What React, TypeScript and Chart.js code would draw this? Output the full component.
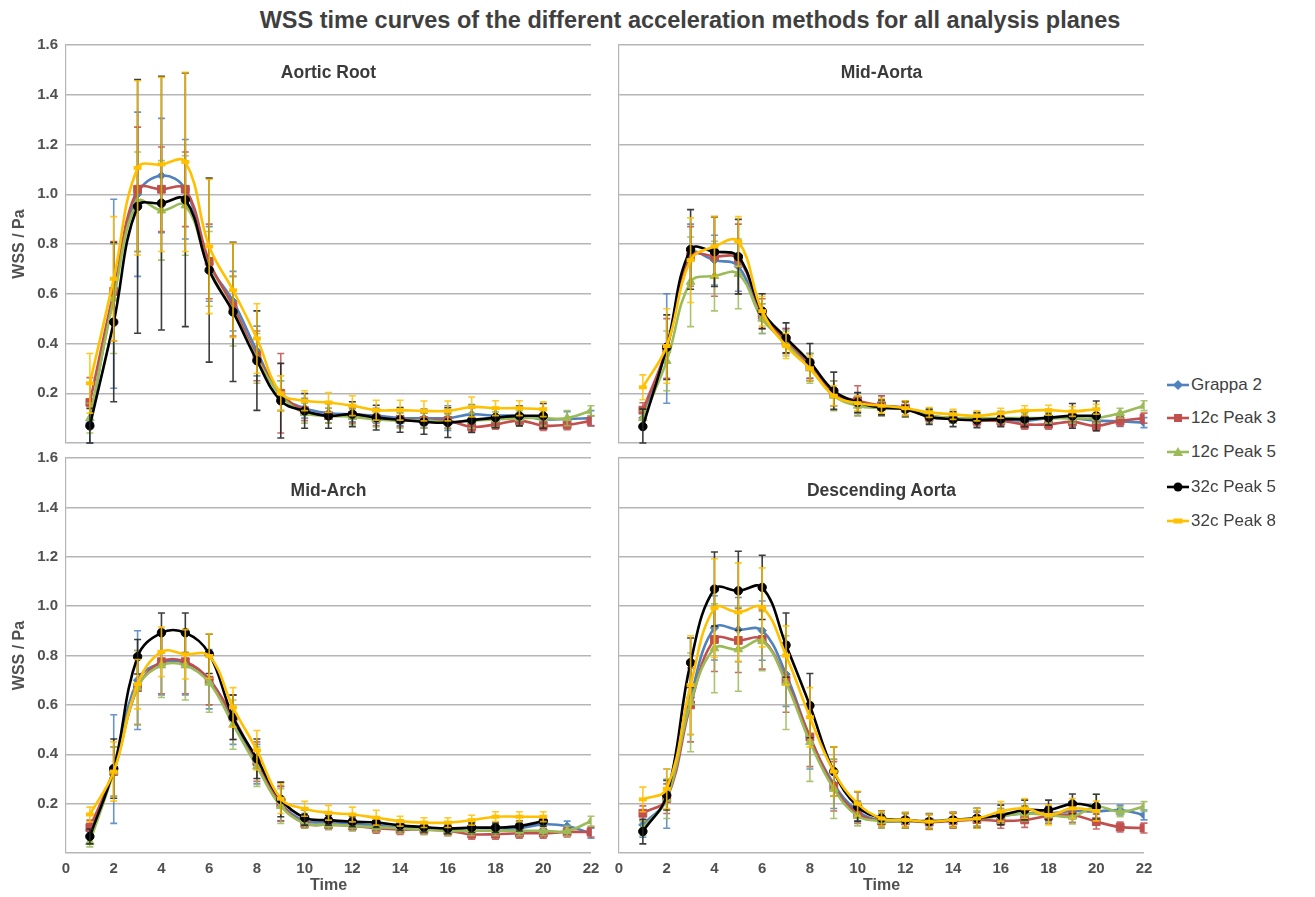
import React, { useEffect, useRef } from 'react';
import { Chart, registerables } from 'chart.js';

Chart.register(...registerables);

// ---------- data ----------
const timePoints = [1, 2, 3, 4, 5, 6, 7, 8, 9, 10, 11, 12, 13, 14, 15, 16, 17, 18, 19, 20, 21, 22];
const seriesNames = ['Grappa 2', '12c Peak 3', '12c Peak 5', '32c Peak 5', '32c Peak 8'];
const seriesColors = ['#4F81BD', '#C0504D', '#9BBB59', '#000000', '#FFC000'];
const errorColors = ['rgba(79,129,189,0.85)', 'rgba(192,80,77,0.85)', 'rgba(155,187,89,0.85)', 'rgba(40,40,40,0.9)', 'rgba(255,192,0,0.85)'];
const pointStyles = ['rectRot', 'rect', 'triangle', 'circle', 'line'];
const yTickValues = [0, 0.2, 0.4, 0.6, 0.8, 1.0, 1.2, 1.4, 1.6];
const xTickValues = [0, 2, 4, 6, 8, 10, 12, 14, 16, 18, 20, 22];
const mainTitle = 'WSS time curves of the different acceleration methods for all analysis planes';
const panelTitles = ['Aortic Root', 'Mid-Aorta', 'Mid-Arch', 'Descending Aorta'];

// Aortic Root
const rootGrappa2 = [0.08, 0.6, 1.0, 1.075, 1.02, 0.72, 0.57, 0.37, 0.19, 0.14, 0.12, 0.115, 0.11, 0.1, 0.1, 0.1, 0.115, 0.11, 0.11, 0.096, 0.096, 0.1];
const rootPeak3 = [0.163, 0.61, 1.02, 1.02, 1.02, 0.73, 0.55, 0.35, 0.2, 0.13, 0.11, 0.11, 0.1, 0.095, 0.09, 0.09, 0.065, 0.075, 0.09, 0.07, 0.073, 0.089];
const rootPeak5a = [0.1, 0.58, 0.97, 0.935, 0.955, 0.7, 0.53, 0.34, 0.19, 0.12, 0.11, 0.105, 0.095, 0.09, 0.09, 0.085, 0.09, 0.095, 0.1, 0.1, 0.1, 0.13];
const rootPeak5b = [0.069, 0.486, 0.951, 0.964, 0.978, 0.695, 0.527, 0.331, 0.17, 0.129, 0.109, 0.116, 0.102, 0.093, 0.085, 0.082, 0.092, 0.102, 0.109, 0.109];
const rootPeak8 = [0.24, 0.66, 1.106, 1.12, 1.13, 0.79, 0.614, 0.42, 0.2, 0.17, 0.163, 0.15, 0.132, 0.132, 0.129, 0.129, 0.145, 0.14, 0.14, 0.136];
const rootGrappa2Err = [0.08, 0.38, 0.33, 0.23, 0.2, 0.15, 0.12, 0.1, 0.06, 0.04, 0.04, 0.03, 0.03, 0.03, 0.03, 0.05, 0.04, 0.03, 0.03, 0.04, 0.03, 0.03];
const rootPeak3Err = [0.1, 0.2, 0.25, 0.17, 0.15, 0.15, 0.12, 0.1, 0.16, 0.04, 0.03, 0.03, 0.03, 0.03, 0.03, 0.03, 0.02, 0.02, 0.02, 0.02, 0.02, 0.02];
const rootPeak5aErr = [0.06, 0.22, 0.2, 0.2, 0.2, 0.15, 0.14, 0.1, 0.06, 0.04, 0.03, 0.03, 0.03, 0.03, 0.03, 0.03, 0.03, 0.03, 0.03, 0.03, 0.03, 0.02];
const rootPeak5bErr = [0.07, 0.32, 0.51, 0.51, 0.51, 0.37, 0.28, 0.2, 0.15, 0.07, 0.05, 0.05, 0.05, 0.05, 0.05, 0.06, 0.05, 0.04, 0.04, 0.05];
const rootPeak8Err = [0.12, 0.25, 0.35, 0.35, 0.36, 0.27, 0.19, 0.14, 0.07, 0.04, 0.04, 0.04, 0.04, 0.04, 0.04, 0.04, 0.04, 0.03, 0.03, 0.03];

// Mid-Aorta
const midAortaGrappa2 = [0.1, 0.38, 0.76, 0.735, 0.71, 0.5, 0.41, 0.31, 0.2, 0.16, 0.15, 0.14, 0.11, 0.1, 0.095, 0.095, 0.09, 0.1, 0.1, 0.09, 0.087, 0.082];
const midAortaPeak3 = [0.132, 0.38, 0.75, 0.75, 0.74, 0.52, 0.41, 0.31, 0.2, 0.17, 0.15, 0.14, 0.105, 0.1, 0.09, 0.089, 0.075, 0.075, 0.085, 0.069, 0.089, 0.1];
const midAortaPeak5a = [0.1, 0.33, 0.648, 0.671, 0.68, 0.5, 0.4, 0.3, 0.19, 0.15, 0.14, 0.135, 0.11, 0.1, 0.1, 0.1, 0.1, 0.1, 0.1, 0.1, 0.12, 0.15];
const midAortaPeak5b = [0.066, 0.385, 0.778, 0.769, 0.749, 0.53, 0.423, 0.325, 0.21, 0.163, 0.143, 0.136, 0.105, 0.096, 0.092, 0.096, 0.096, 0.102, 0.109, 0.109];
const midAortaPeak8 = [0.224, 0.39, 0.735, 0.79, 0.81, 0.53, 0.39, 0.3, 0.19, 0.16, 0.15, 0.14, 0.123, 0.115, 0.109, 0.12, 0.13, 0.132, 0.127, 0.136];
const midAortaGrappa2Err = [0.03, 0.22, 0.12, 0.1, 0.1, 0.06, 0.05, 0.05, 0.05, 0.04, 0.04, 0.03, 0.02, 0.02, 0.02, 0.02, 0.02, 0.02, 0.02, 0.02, 0.02, 0.02];
const midAortaPeak3Err = [0.03, 0.12, 0.12, 0.16, 0.14, 0.06, 0.05, 0.05, 0.05, 0.06, 0.04, 0.03, 0.02, 0.02, 0.02, 0.02, 0.02, 0.02, 0.02, 0.02, 0.02, 0.02];
const midAortaPeak5aErr = [0.03, 0.12, 0.18, 0.14, 0.14, 0.06, 0.05, 0.06, 0.06, 0.04, 0.03, 0.03, 0.03, 0.02, 0.02, 0.02, 0.02, 0.02, 0.02, 0.02, 0.02, 0.02];
const midAortaPeak5bErr = [0.07, 0.13, 0.16, 0.14, 0.15, 0.07, 0.06, 0.075, 0.075, 0.04, 0.03, 0.03, 0.03, 0.03, 0.03, 0.03, 0.03, 0.03, 0.05, 0.06];
const midAortaPeak8Err = [0.05, 0.15, 0.17, 0.12, 0.1, 0.06, 0.05, 0.05, 0.04, 0.03, 0.03, 0.03, 0.02, 0.02, 0.02, 0.02, 0.02, 0.02, 0.02, 0.02];

// Mid-Arch
const midArchGrappa2 = [0.09, 0.34, 0.7, 0.77, 0.77, 0.704, 0.54, 0.36, 0.2, 0.13, 0.125, 0.12, 0.11, 0.105, 0.1, 0.095, 0.1, 0.1, 0.1, 0.116, 0.109, 0.08];
const midArchPeak3 = [0.103, 0.33, 0.67, 0.775, 0.775, 0.7, 0.55, 0.37, 0.2, 0.12, 0.115, 0.11, 0.1, 0.095, 0.095, 0.09, 0.076, 0.076, 0.08, 0.08, 0.085, 0.085];
const midArchPeak5a = [0.045, 0.33, 0.67, 0.76, 0.76, 0.69, 0.52, 0.35, 0.19, 0.12, 0.115, 0.11, 0.105, 0.1, 0.095, 0.09, 0.09, 0.09, 0.09, 0.09, 0.089, 0.129];
const midArchPeak5b = [0.067, 0.342, 0.795, 0.892, 0.892, 0.807, 0.55, 0.382, 0.217, 0.143, 0.133, 0.127, 0.123, 0.112, 0.105, 0.099, 0.103, 0.103, 0.109, 0.129];
const midArchPeak8 = [0.156, 0.33, 0.684, 0.815, 0.805, 0.798, 0.59, 0.416, 0.22, 0.179, 0.163, 0.156, 0.143, 0.129, 0.123, 0.123, 0.133, 0.147, 0.147, 0.147];
const midArchGrappa2Err = [0.03, 0.22, 0.2, 0.13, 0.13, 0.12, 0.1, 0.08, 0.07, 0.03, 0.02, 0.02, 0.02, 0.02, 0.02, 0.02, 0.02, 0.02, 0.02, 0.02, 0.02, 0.02];
const midArchPeak3Err = [0.03, 0.1, 0.15, 0.13, 0.13, 0.1, 0.09, 0.08, 0.07, 0.02, 0.02, 0.02, 0.02, 0.02, 0.02, 0.02, 0.02, 0.02, 0.02, 0.02, 0.02, 0.02];
const midArchPeak5aErr = [0.02, 0.1, 0.15, 0.13, 0.14, 0.12, 0.1, 0.08, 0.07, 0.02, 0.02, 0.02, 0.02, 0.02, 0.02, 0.02, 0.02, 0.02, 0.02, 0.02, 0.02, 0.02];
const midArchPeak5bErr = [0.03, 0.12, 0.07, 0.08, 0.08, 0.08, 0.09, 0.08, 0.07, 0.03, 0.02, 0.02, 0.02, 0.02, 0.02, 0.02, 0.02, 0.02, 0.02, 0.02];
const midArchPeak8Err = [0.03, 0.12, 0.1, 0.1, 0.1, 0.09, 0.08, 0.08, 0.06, 0.03, 0.03, 0.03, 0.03, 0.02, 0.02, 0.02, 0.02, 0.02, 0.02, 0.02];

// Descending Aorta
const descGrappa2 = [0.114, 0.22, 0.63, 0.912, 0.905, 0.901, 0.724, 0.47, 0.28, 0.17, 0.13, 0.13, 0.13, 0.135, 0.14, 0.15, 0.16, 0.16, 0.17, 0.168, 0.174, 0.154];
const descPeak3 = [0.161, 0.22, 0.6, 0.865, 0.861, 0.865, 0.7, 0.47, 0.27, 0.16, 0.13, 0.13, 0.125, 0.13, 0.135, 0.13, 0.134, 0.15, 0.154, 0.127, 0.105, 0.101];
const descPeak5a = [0.1, 0.22, 0.61, 0.829, 0.825, 0.858, 0.69, 0.45, 0.26, 0.15, 0.13, 0.13, 0.13, 0.135, 0.14, 0.15, 0.16, 0.154, 0.148, 0.188, 0.167, 0.188];
const descPeak5b = [0.087, 0.234, 0.771, 1.069, 1.062, 1.076, 0.842, 0.597, 0.33, 0.188, 0.141, 0.134, 0.127, 0.134, 0.141, 0.154, 0.174, 0.174, 0.199, 0.188];
const descPeak8 = [0.217, 0.26, 0.68, 0.992, 0.975, 0.995, 0.8, 0.55, 0.33, 0.2, 0.14, 0.134, 0.127, 0.134, 0.14, 0.168, 0.181, 0.154, 0.181, 0.17];
const descGrappa2Err = [0.05, 0.12, 0.15, 0.13, 0.13, 0.12, 0.13, 0.13, 0.1, 0.04, 0.03, 0.03, 0.03, 0.03, 0.03, 0.03, 0.03, 0.03, 0.03, 0.03, 0.02, 0.02];
const descPeak3Err = [0.03, 0.06, 0.15, 0.13, 0.13, 0.12, 0.13, 0.12, 0.1, 0.04, 0.03, 0.03, 0.03, 0.03, 0.03, 0.03, 0.03, 0.03, 0.03, 0.03, 0.02, 0.02];
const descPeak5aErr = [0.03, 0.08, 0.2, 0.18, 0.17, 0.12, 0.19, 0.16, 0.12, 0.04, 0.03, 0.03, 0.03, 0.03, 0.03, 0.03, 0.03, 0.03, 0.03, 0.05, 0.02, 0.02];
const descPeak5bErr = [0.05, 0.06, 0.1, 0.15, 0.16, 0.13, 0.13, 0.13, 0.1, 0.06, 0.03, 0.03, 0.03, 0.03, 0.04, 0.04, 0.04, 0.04, 0.04, 0.05];
const descPeak8Err = [0.05, 0.08, 0.2, 0.2, 0.2, 0.16, 0.12, 0.12, 0.1, 0.05, 0.03, 0.03, 0.03, 0.03, 0.04, 0.04, 0.04, 0.04, 0.04, 0.04];

const panelValues = [
  [rootGrappa2, rootPeak3, rootPeak5a, rootPeak5b, rootPeak8],
  [midAortaGrappa2, midAortaPeak3, midAortaPeak5a, midAortaPeak5b, midAortaPeak8],
  [midArchGrappa2, midArchPeak3, midArchPeak5a, midArchPeak5b, midArchPeak8],
  [descGrappa2, descPeak3, descPeak5a, descPeak5b, descPeak8],
];
const panelErrors = [
  [rootGrappa2Err, rootPeak3Err, rootPeak5aErr, rootPeak5bErr, rootPeak8Err],
  [midAortaGrappa2Err, midAortaPeak3Err, midAortaPeak5aErr, midAortaPeak5bErr, midAortaPeak8Err],
  [midArchGrappa2Err, midArchPeak3Err, midArchPeak5aErr, midArchPeak5bErr, midArchPeak8Err],
  [descGrappa2Err, descPeak3Err, descPeak5aErr, descPeak5bErr, descPeak8Err],
];

// ---------- layout ----------
const FONT = '"Liberation Sans", Arial, sans-serif';
const TEXT_COLOR = '#505050';
const GRID_COLOR = '#b5b5b5';
const PAD = 20;

// plot areas: left panels x 66..591, right panels x 619..1144; top y 45..443, bottom y 458..853
const panelLayout = [
  { left: 0, top: 45 - PAD, width: 591 + PAD, height: 443 - 45 + 2 * PAD, showX: false, showY: true, titleX: 328.5, titleY: 72 },
  { left: 619 - PAD, top: 45 - PAD, width: 1144 - 619 + 2 * PAD, height: 443 - 45 + 2 * PAD, showX: false, showY: false, titleX: 881.5, titleY: 72 },
  { left: 0, top: 458 - PAD, width: 591 + PAD, height: 897 - (458 - PAD), showX: true, showY: true, titleX: 328.5, titleY: 490 },
  { left: 619 - PAD, top: 458 - PAD, width: 1144 - 619 + 2 * PAD, height: 897 - (458 - PAD), showX: true, showY: false, titleX: 881.5, titleY: 490 },
];

const errorBarPlugin = {
  id: 'errorBars',
  afterDatasetDraw(chart: any, args: any, opts: any) {
    const errs = opts.errors;
    if (!errs) return;
    const i = args.index;
    const err = errs[i];
    const meta = args.meta;
    const yScale = chart.scales.y;
    const ctx = chart.ctx;
    const area = chart.chartArea;
    ctx.save();
    ctx.beginPath();
    ctx.rect(area.left - 10, area.top - 2, area.right - area.left + 20, area.bottom - area.top + 4);
    ctx.clip();
    ctx.strokeStyle = errorColors[i];
    ctx.lineWidth = 1.6;
    meta.data.forEach((pt: any, j: number) => {
      const v = chart.data.datasets[i].data[j].y;
      const e = err[j];
      if (v == null || e == null) return;
      const x = pt.x;
      const yT = yScale.getPixelForValue(v + e);
      const yB = yScale.getPixelForValue(Math.max(0, v - e));
      ctx.beginPath();
      ctx.moveTo(x, yT);
      ctx.lineTo(x, yB);
      ctx.moveTo(x - 3.5, yT);
      ctx.lineTo(x + 3.5, yT);
      ctx.moveTo(x - 3.5, yB);
      ctx.lineTo(x + 3.5, yB);
      ctx.stroke();
    });
    ctx.restore();
  },
};

function Panel({ index }: { index: number }) {
  const ref = useRef<HTMLCanvasElement | null>(null);
  const lay = panelLayout[index];
  useEffect(() => {
    if (!ref.current) return;
    const values = panelValues[index];
    const errors = panelErrors[index];
    const tickFont = { family: FONT, size: 15, weight: 'bold' as const };
    const axisTitleFont = { family: FONT, size: 16, weight: 'bold' as const };
    const chart = new Chart(ref.current, {
      type: 'line',
      data: {
        datasets: seriesNames.map((name, i) => ({
          label: name,
          data: values[i].map((v, j) => ({ x: timePoints[j], y: v })),
          borderColor: seriesColors[i],
          backgroundColor: seriesColors[i],
          borderWidth: 2.6,
          tension: 0.4,
          pointStyle: pointStyles[i] as any,
          pointRadius: [4.2, 5.5, 5, 4.2, 4][i],
          pointBorderWidth: i === 4 ? 4 : 1,
          pointBackgroundColor: seriesColors[i],
          pointBorderColor: seriesColors[i],
          order: 4 - i,
        })),
      },
      options: {
        animation: false,
        responsive: false,
        events: [],
        layout: {
          padding: {
            top: PAD,
            right: PAD,
            bottom: lay.showX ? 0 : PAD,
            left: lay.showY ? 0 : PAD,
          },
        },
        plugins: {
          legend: { display: false },
          tooltip: { enabled: false },
          errorBars: { errors },
        } as any,
        scales: {
          x: {
            type: 'linear',
            min: 0,
            max: 22,
            display: lay.showX,
            afterBuildTicks: (scale: any) => {
              scale.ticks = xTickValues.map((v) => ({ value: v }));
            },
            ticks: {
              font: tickFont,
              color: TEXT_COLOR,
              padding: 7,
              maxRotation: 0,
              autoSkip: false,
            },
            grid: { display: false, drawTicks: false },
            border: { display: false },
            title: {
              display: lay.showX,
              text: 'Time',
              font: axisTitleFont,
              color: TEXT_COLOR,
              padding: { top: 0, bottom: 2 },
            },
            afterFit: (scale: any) => {
              scale.height = lay.showX ? 44 : 0;
            },
          },
          y: {
            type: 'linear',
            min: 0,
            max: 1.6,
            afterBuildTicks: (scale: any) => {
              scale.ticks = yTickValues.map((v) => ({ value: v }));
            },
            ticks: {
              display: lay.showY,
              font: tickFont,
              color: TEXT_COLOR,
              padding: 8,
              callback: (v: any) => (Number(v) === 0 ? '' : Number(v).toFixed(1)),
            },
            grid: { color: GRID_COLOR, lineWidth: 1.5, drawTicks: false },
            border: { display: true, color: GRID_COLOR, width: 1.2 },
            title: {
              display: lay.showY,
              text: 'WSS / Pa',
              font: axisTitleFont,
              color: TEXT_COLOR,
              padding: { top: 10, bottom: 0 },
            },
            afterFit: (scale: any) => {
              scale.width = lay.showY ? 66 : 0;
            },
          },
        },
      },
      plugins: [errorBarPlugin],
    });
    return () => chart.destroy();
  }, [index]);
  return (
    <>
      <canvas
        ref={ref}
        width={lay.width}
        height={lay.height}
        style={{ position: 'absolute', left: lay.left, top: lay.top, width: lay.width, height: lay.height }}
      />
      <div
        style={{
          position: 'absolute',
          left: lay.titleX,
          top: lay.titleY - 11,
          transform: 'translateX(-50%)',
          whiteSpace: 'nowrap',
          font: `bold 17.5px ${FONT}`,
          lineHeight: '22px',
          color: '#3a3a3a',
        }}
      >
        {panelTitles[index]}
      </div>
    </>
  );
}

function LegendMarker({ i }: { i: number }) {
  const c = seriesColors[i];
  const cx = 12;
  const cy = 8;
  let marker: React.ReactNode = null;
  if (i === 0) marker = <polygon points={`${cx},${cy - 5} ${cx + 5},${cy} ${cx},${cy + 5} ${cx - 5},${cy}`} fill={c} />;
  if (i === 1) marker = <rect x={cx - 4} y={cy - 4} width={8} height={8} fill={c} />;
  if (i === 2) marker = <polygon points={`${cx},${cy - 5} ${cx + 5},${cy + 4} ${cx - 5},${cy + 4}`} fill={c} />;
  if (i === 3) marker = <circle cx={cx} cy={cy} r={4.5} fill={c} />;
  if (i === 4) marker = <rect x={cx - 4.5} y={cy - 2.5} width={9} height={5} fill={c} />;
  return (
    <svg width={24} height={16} style={{ display: 'block' }}>
      <line x1={1} y1={cy} x2={23} y2={cy} stroke={c} strokeWidth={2.6} />
      {marker}
    </svg>
  );
}

export default function App() {
  const legendY = [385, 418, 452, 487, 521];
  return (
    <div style={{ position: 'absolute', left: 0, top: 0, width: 1315, height: 897, background: '#ffffff', overflow: 'hidden' }}>
      <div
        style={{
          position: 'absolute',
          left: 690,
          top: 6,
          transform: 'translateX(-50%)',
          whiteSpace: 'nowrap',
          font: `bold 23.5px ${FONT}`,
          lineHeight: '28px',
          color: '#3f3f3f',
        }}
      >
        {mainTitle}
      </div>
      {[0, 1, 2, 3].map((i) => (
        <Panel key={i} index={i} />
      ))}
      {seriesNames.map((name, i) => (
        <div
          key={name}
          style={{
            position: 'absolute',
            left: 1166,
            top: legendY[i] - 10,
            height: 20,
            display: 'flex',
            alignItems: 'center',
            whiteSpace: 'nowrap',
          }}
        >
          <LegendMarker i={i} />
          <span style={{ font: `17px ${FONT}`, color: '#404040', marginLeft: 1 }}>{name}</span>
        </div>
      ))}
    </div>
  );
}
